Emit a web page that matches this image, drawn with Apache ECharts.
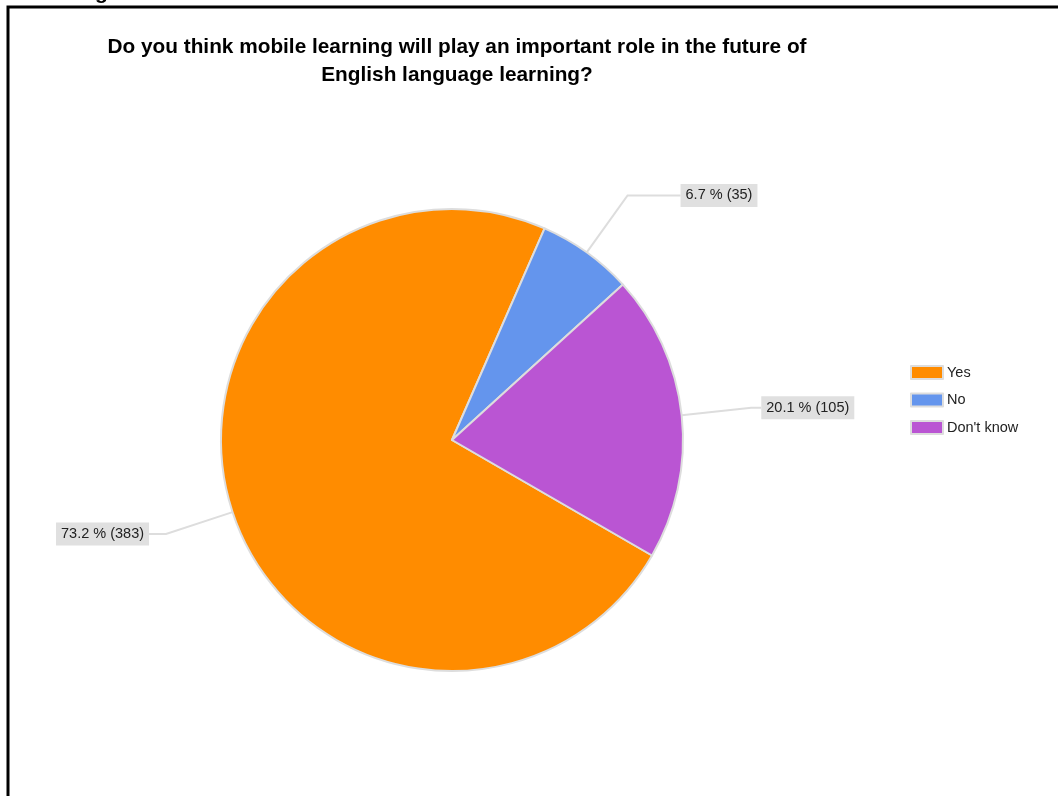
<!DOCTYPE html>
<html>
<head>
<meta charset="utf-8">
<script src="https://cdn.jsdelivr.net/npm/echarts@6/dist/echarts.min.js"></script>
<style>
  html, body { margin: 0; padding: 0; background: #fff; }
  #chart { width: 1058px; height: 796px; }
</style>
</head>
<body>
<div id="chart"></div>
<script>
// Survey answers and their response counts
const answers = ['Yes', 'No', "Don't know"];
const counts = [383, 35, 105];
const sliceColors = ['#FF8C00', '#6495ED', '#BA55D3'];
// Second leg of each label's leader line
const leaderTail = [17, 53, 10];

const titleText = 'Do you think mobile learning will play an important role in the future of\nEnglish language learning?';

const chart = echarts.init(document.getElementById('chart'), null, { renderer: 'canvas' });

const pieData = answers.map((name, i) => ({
  name: name,
  value: counts[i],
  itemStyle: { color: sliceColors[i] },
  labelLine: { length2: leaderTail[i] }
}));

chart.setOption({
  backgroundColor: '#ffffff',
  animation: false,
  textStyle: { fontFamily: 'Liberation Sans, Arial, sans-serif' },
  title: {
    text: titleText,
    left: 452,
    top: 28,
    textAlign: 'center',
    textStyle: {
      fontFamily: 'Liberation Sans, Arial, sans-serif',
      fontSize: 20.8,
      fontWeight: 'bold',
      color: '#000',
      lineHeight: 28
    }
  },
  legend: {
    orient: 'vertical',
    left: 905,
    top: 360,
    itemWidth: 32,
    itemHeight: 13,
    itemGap: 12.5,
    icon: 'rect',
    data: answers,
    textStyle: {
      fontFamily: 'Liberation Sans, Arial, sans-serif',
      fontSize: 14.5,
      color: '#222',
      padding: [0, 0, 0, -1]
    }
  },
  graphic: [
    {
      type: 'rect',
      z: 0,
      shape: { x: 8, y: 7, width: 1200, height: 1000 },
      style: { fill: 'none', stroke: '#000', lineWidth: 3 }
    },
    {
      type: 'text',
      z: 0,
      x: 95,
      y: -17,
      style: {
        text: 'g',
        fill: '#000',
        font: 'bold 21px "Liberation Sans", Arial, sans-serif'
      }
    }
  ],
  series: [
    {
      type: 'pie',
      center: [452, 440],
      radius: [0, 231],
      startAngle: -30,
      clockwise: true,
      percentPrecision: 1,
      avoidLabelOverlap: false,
      itemStyle: { borderColor: '#dddddd', borderWidth: 2 },
      emphasis: { disabled: true },
      label: {
        show: true,
        position: 'outside',
        formatter: '{d} % ({c})',
        fontFamily: 'Liberation Sans, Arial, sans-serif',
        fontSize: 14.5,
        color: '#222',
        backgroundColor: '#e0e0e0',
        padding: [4, 5, 4, 5],
        distanceToLabelLine: 0
      },
      labelLine: {
        show: true,
        length: 70,
        smooth: false,
        lineStyle: { color: '#dddddd', width: 2 }
      },
      data: pieData
    }
  ]
});
</script>
</body>
</html>
